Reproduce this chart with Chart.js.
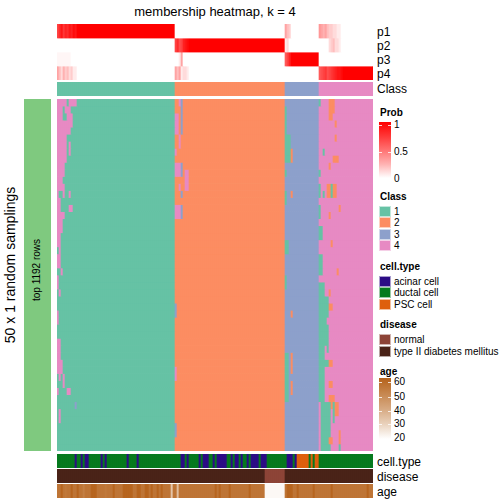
<!DOCTYPE html>
<html>
<head>
<meta charset="utf-8">
<script src="https://cdn.jsdelivr.net/npm/chart.js@4"></script>
<style>
body { margin: 0; width: 504px; height: 504px; position: relative; background: #fff; overflow: hidden;
       font-family: "Liberation Sans", Arial, sans-serif; color: #000; }
canvas { position: absolute; left: 57px; }
.t { position: absolute; white-space: nowrap; transform: translateY(-50%); line-height: 1; }
.lab { font-size: 12px; left: 377px; }
.lt { font-size: 10px; font-weight: bold; left: 380px; }
.lv { font-size: 10px; left: 394px; }
.box { position: absolute; left: 379px; width: 12px; height: 11px; box-sizing: border-box; border: 1px solid rgba(255,255,255,0.6); }
.tick { position: absolute; height: 1px; width: 3px; background: rgba(255,255,255,0.8); }
</style>
</head>
<body>
<div class="t" style="left:215px;top:11px;font-size:13px;transform:translate(-50%,-50%)">membership heatmap, k = 4</div>
<div class="t" style="left:10px;top:265px;font-size:14px;transform:translate(-50%,-50%) rotate(-90deg)">50 x 1 random samplings</div>
<div style="position:absolute;left:24px;top:99px;width:27px;height:352px;background:#7FC97F"></div>
<div class="t" style="left:37px;top:270px;font-size:10px;transform:translate(-50%,-50%) rotate(-90deg)">top 1192 rows</div>

<canvas id="probChart" width="316" height="56" style="top:24px"></canvas>
<canvas id="classChart" width="316" height="14" style="top:82px"></canvas>
<canvas id="mainChart" width="316" height="352" style="top:99px"></canvas>
<canvas id="cellChart" width="316" height="14" style="top:454px"></canvas>
<canvas id="diseaseChart" width="316" height="14" style="top:469px"></canvas>
<canvas id="ageChart" width="316" height="14" style="top:484px"></canvas>

<div class="t lab" style="top:32px">p1</div>
<div class="t lab" style="top:46px">p2</div>
<div class="t lab" style="top:60px">p3</div>
<div class="t lab" style="top:74px">p4</div>
<div class="t lab" style="top:89px">Class</div>
<div class="t lab" style="top:462px">cell.type</div>
<div class="t lab" style="top:477px">disease</div>
<div class="t lab" style="top:492px">age</div>

<div id="legend"></div>

<script>
// membership classes, as runs of [class, number of samples]
const classRuns = [[1, 59], [2, 55], [3, 17], [4, 27]];
const classColors = { 1: "#66C2A5", 2: "#FC8D62", 3: "#8DA0CB", 4: "#E78AC3" };

// columns where the membership probabilities are not a clean 0/1: col -> [p1, p2, p3, p4]
const probCols = {
    0: [0.7, 0, 0.02, 0.3], 1: [0.8, 0, 0.02, 0.2], 2: [0.9, 0, 0.02, 0.1], 3: [0.75, 0, 0.02, 0.25],
    4: [0.85, 0, 0.02, 0.15], 5: [0.8, 0, 0.02, 0.2], 6: [0.9, 0, 0.02, 0.1], 7: [0.85, 0, 0, 0.15],
    8: [0.95, 0, 0, 0.05], 9: [0.9, 0, 0, 0.05],
    59: [0, 0.7, 0, 0.3], 60: [0, 0.8, 0, 0.2], 61: [0, 0.65, 0.05, 0.3], 62: [0, 0.7, 0.3, 0.05],
    63: [0, 0.85, 0, 0.1], 64: [0, 0.9, 0, 0.1], 65: [0, 0.95, 0, 0.05],
    114: [0.3, 0.05, 0.6, 0], 115: [0.2, 0.1, 0.7, 0], 116: [0.15, 0, 0.85, 0],
    131: [0.35, 0, 0, 0.6], 132: [0.3, 0, 0, 0.65], 133: [0.25, 0, 0, 0.7], 134: [0.3, 0, 0, 0.75],
    135: [0.2, 0, 0, 0.65], 136: [0.15, 0.1, 0, 0.7], 137: [0.15, 0.15, 0, 0.75], 138: [0.1, 0.2, 0, 0.8],
    139: [0.1, 0.1, 0, 0.85], 140: [0.05, 0.1, 0, 0.9], 141: [0.05, 0.05, 0, 0.9], 142: [0, 0, 0, 0.95]
};

// patches in the 50 sampling rows that differ from the final class: [row0, row1, col0, col1, class]
const mainPatches = [
    [0, 0, 0, 4, 4], [0, 0, 6, 9, 4], [1, 2, 0, 2, 4], [1, 1, 4, 6, 4], [2, 3, 5, 7, 4], [3, 4, 0, 6, 4],
    [5, 8, 0, 4, 4], [6, 7, 6, 6, 4], [9, 10, 0, 3, 4], [11, 12, 0, 2, 4], [12, 13, 3, 3, 4],
    [13, 13, 0, 0, 4], [13, 13, 6, 6, 4], [14, 15, 0, 1, 4], [15, 15, 6, 7, 4], [16, 16, 0, 3, 4],
    [17, 18, 0, 2, 4], [19, 20, 0, 1, 4], [21, 21, 1, 1, 4], [22, 23, 0, 1, 4], [24, 24, 2, 2, 4],
    [25, 26, 0, 0, 4], [27, 27, 1, 1, 4], [30, 31, 0, 0, 4], [34, 38, 0, 1, 4], [37, 38, 2, 2, 4],
    [39, 39, 1, 1, 4], [39, 40, 3, 3, 4], [41, 41, 0, 0, 4], [41, 41, 5, 6, 4], [43, 43, 9, 9, 3],
    [44, 45, 1, 1, 4],
    [0, 0, 61, 61, 4], [0, 4, 62, 62, 3], [2, 4, 59, 60, 4], [5, 6, 61, 61, 4], [7, 7, 59, 59, 4],
    [9, 10, 59, 61, 4], [9, 10, 62, 62, 3], [10, 12, 64, 65, 4], [12, 12, 61, 61, 4], [13, 13, 62, 62, 3],
    [15, 16, 59, 61, 4], [15, 16, 62, 62, 3], [29, 30, 59, 59, 3], [38, 39, 59, 59, 4], [46, 47, 59, 59, 3],
    [1, 8, 114, 114, 1], [5, 8, 115, 116, 1], [7, 8, 117, 117, 2], [10, 10, 114, 114, 1],
    [13, 14, 114, 114, 1], [13, 13, 117, 117, 2], [20, 21, 114, 115, 1], [25, 26, 114, 114, 1],
    [30, 30, 117, 117, 2], [36, 38, 114, 115, 1], [36, 38, 117, 117, 2], [39, 42, 114, 115, 1],
    [40, 41, 117, 117, 2],
    [0, 0, 131, 131, 1], [0, 2, 136, 137, 2], [0, 1, 138, 138, 2], [3, 3, 139, 139, 2], [5, 5, 139, 139, 2],
    [7, 7, 133, 133, 1], [8, 8, 138, 140, 2], [9, 9, 136, 136, 2], [10, 10, 131, 131, 1],
    [12, 13, 131, 131, 1], [12, 13, 135, 136, 2], [12, 13, 137, 137, 1], [12, 13, 138, 139, 2],
    [13, 13, 133, 133, 1], [15, 16, 131, 131, 1], [15, 15, 141, 141, 2], [16, 16, 136, 136, 2],
    [18, 19, 131, 132, 1], [20, 20, 137, 137, 2], [22, 24, 131, 132, 1], [24, 24, 140, 140, 2],
    [26, 28, 131, 133, 1], [27, 27, 136, 136, 2], [28, 30, 131, 135, 1], [29, 29, 136, 137, 2],
    [30, 32, 131, 134, 1], [32, 34, 131, 135, 1], [35, 35, 135, 135, 1], [34, 37, 131, 133, 1],
    [37, 37, 131, 135, 1], [37, 37, 136, 137, 2], [38, 42, 131, 133, 1], [40, 40, 136, 137, 2],
    [42, 43, 136, 138, 2], [43, 44, 139, 140, 2], [43, 45, 138, 138, 1], [43, 49, 132, 136, 1],
    [47, 48, 141, 141, 2], [48, 48, 136, 137, 2], [49, 49, 141, 141, 1]
];

// annotations
const acinarCols = [9, 12, 14, 15, 22, 24, 35, 40, 62, 63, 65, 71, 73, 74, 75, 78, 80, 81, 82, 83, 84,
                    87, 89, 90, 92, 95, 97, 98, 99, 100, 102, 103, 104, 115, 116, 117, 119];
const pscCols = [120, 121, 122, 123, 124, 125, 127, 129, 130];
const normalCols = [104, 105, 106, 107, 108, 109, 110, 111, 112, 113];
const ages = [
    56, 56, 61, 56, 55, 56, 56, 61, 56, 56, 61, 56, 56, 53, 56, 56, 56, 61, 61, 61,
    56, 56, 56, 56, 55, 56, 56, 56, 61, 56, 56, 56, 56, 61, 61, 61, 61, 61, 56, 56,
    61, 61, 56, 56, 61, 61, 56, 61, 56, 56, 61, 56, 61, 56, 56, 56, 56, 33, 56, 56,
    35, 56, 56, 56, 56, 56, 56, 56, 56, 56, 56, 56, 56, 56, 56, 56, 56, 56, 56, 61,
    56, 61, 56, 56, 56, 56, 61, 56, 56, 56, 56, 56, 56, 56, 56, 56, 61, 56, 56, 56,
    56, 56, 56, 56, 21, 21, 21, 21, 21, 21, 21, 21, 21, 21, 56, 61, 61, 61, 56, 56,
    61, 56, 56, 56, 56, 56, 56, 56, 61, 56, 56, 56, 56, 56, 56, 56, 56, 61, 56, 56,
    56, 56, 56, 56, 56, 56, 56, 56, 56, 56, 56, 56, 56, 56, 56, 61, 56, 56
];
const cellColors = { acinar: "#2C0C85", ductal: "#067A1E", psc: "#DE5F0D" };
const diseaseColors = { normal: "#8D4437", t2d: "#4A2318" };

// ---- build rows ----
const sampleClass = [];
classRuns.forEach(([k, n]) => { for (let i = 0; i < n; i++) sampleClass.push(k); });
const labels = sampleClass.map((k, i) => "c" + k + "_" + i);

function mix(c0, c1, t) {
    t = Math.max(0, Math.min(1, t));
    const ch = c0.map((v, i) => Math.round(v + (c1[i] - v) * Math.pow(t, 0.85)));
    return `rgb(${ch[0]},${ch[1]},${ch[2]})`;
}
const probColor = p => mix([255, 255, 255], [255, 0, 0], p);
const ageColor = a => mix([255, 255, 255], [181, 98, 26], (a - 20) / 42);

const probRows = [0, 1, 2, 3].map(j => sampleClass.map((k, c) => {
    const p = probCols[c] ? probCols[c][j] : (k === j + 1 ? 1 : 0);
    return probColor(p);
}));

const main = [];
for (let r = 0; r < 50; r++) main.push(sampleClass.slice());
mainPatches.forEach(([r0, r1, c0, c1, k]) => {
    for (let r = r0; r <= r1; r++) for (let c = c0; c <= c1; c++) main[r][c] = k;
});
const mainRows = main.map(row => row.map(k => classColors[k]));

const cellRow = sampleClass.map((k, c) =>
    acinarCols.includes(c) ? cellColors.acinar : pscCols.includes(c) ? cellColors.psc : cellColors.ductal);
const diseaseRow = sampleClass.map((k, c) => normalCols.includes(c) ? diseaseColors.normal : diseaseColors.t2d);
const ageRow = ages.map(ageColor);

function heat(id, rowColors) {
    const n = rowColors.length;
    return new Chart(document.getElementById(id), {
        type: "bar",
        data: {
            labels: labels,
            datasets: rowColors.map((cols, r) => ({
                data: cols.map(() => [r, r + 1]),
                backgroundColor: cols,
                borderWidth: 0,
                grouped: false,
                barPercentage: 1,
                categoryPercentage: 1
            }))
        },
        options: {
            responsive: false,
            animation: false,
            layout: { padding: 0 },
            plugins: { legend: { display: false }, tooltip: { enabled: false } },
            scales: {
                x: { display: false },
                y: { display: false, min: 0, max: n, reverse: true }
            }
        }
    });
}

heat("probChart", probRows);
heat("classChart", [sampleClass.map(k => classColors[k])]);
heat("mainChart", mainRows);
heat("cellChart", [cellRow]);
heat("diseaseChart", [diseaseRow]);
heat("ageChart", [ageRow]);

// ---- legends ----
const lg = document.getElementById("legend");
function add(html) { lg.insertAdjacentHTML("beforeend", html); }
function title(txt, y) { add(`<div class="t lt" style="top:${y}px">${txt}</div>`); }
function val(txt, y) { add(`<div class="t lv" style="top:${y}px">${txt}</div>`); }
function box(col, y) { add(`<div class="box" style="top:${y}px;background:${col}"></div>`); }

title("Prob", 113);
add(`<div style="position:absolute;left:379px;top:122px;width:12px;height:56px;background:linear-gradient(to bottom, ${probColor(1)}, ${probColor(0.75)}, ${probColor(0.5)}, ${probColor(0.25)}, ${probColor(0)})"></div>`);
[["1", 125], ["0.5", 152], ["0", 179]].forEach(([t, y]) => {
    val(t, y);
    if (t !== "0") add(`<div class="tick" style="left:379px;top:${y}px"></div><div class="tick" style="left:388px;top:${y}px"></div>`);
});

title("Class", 197);
[1, 2, 3, 4].forEach((k, i) => { box(classColors[k], 206 + i * 11.3); val(String(k), 212 + i * 11.3); });

title("cell.type", 267);
[["acinar cell", cellColors.acinar], ["ductal cell", cellColors.ductal], ["PSC cell", cellColors.psc]]
    .forEach(([t, c], i) => { box(c, 276 + i * 11.3); val(t, 282 + i * 11.3); });

title("disease", 325);
[["normal", diseaseColors.normal], ["type II diabetes mellitus", diseaseColors.t2d]]
    .forEach(([t, c], i) => { box(c, 334 + i * 11.5); val(t, 340 + i * 11.5); });

title("age", 372);
add(`<div style="position:absolute;left:379px;top:378px;width:12px;height:61px;background:linear-gradient(to bottom, ${ageColor(62)}, ${ageColor(51)}, ${ageColor(41)}, ${ageColor(30)}, ${ageColor(20)})"></div>`);
[["60", 382], ["50", 397], ["40", 411], ["30", 424], ["20", 438]].forEach(([t, y]) => {
    val(t, y);
    if (t !== "20") add(`<div class="tick" style="left:379px;top:${y}px"></div><div class="tick" style="left:388px;top:${y}px"></div>`);
});
</script>
</body>
</html>
